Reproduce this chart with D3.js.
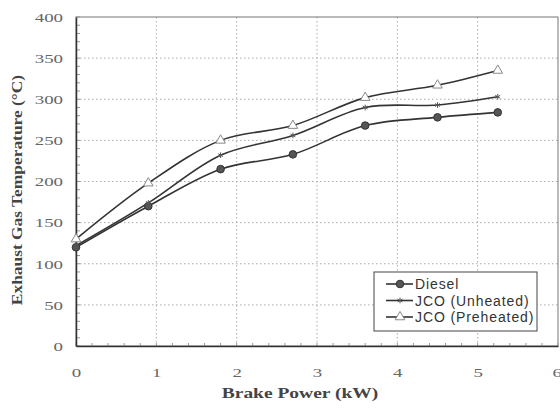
<!DOCTYPE html>
<html>
<head>
<meta charset="utf-8">
<script src="https://cdn.jsdelivr.net/npm/d3@7"></script>
<style>
  body { margin: 0; background: #fff; }
  svg { display: block; }
</style>
</head>
<body>
<script>
// data
const power = [0, 0.9, 1.8, 2.7, 3.6, 4.5, 5.25];
const diesel = [120, 170, 215, 233, 268, 278, 284];
const jcoUnheated = [122, 174, 232, 256, 290, 293, 303];
const jcoPreheated = [130, 198, 250, 268, 302, 317, 335];
const seriesNames = ["Diesel", "JCO (Unheated)", "JCO (Preheated)"];
const xTicks = [0, 1, 2, 3, 4, 5, 6];
const yTicks = [0, 50, 100, 150, 200, 250, 300, 350, 400];

const W = 560, H = 408;
const margin = {top: 17, right: 2, bottom: 62, left: 76};
const width = W - margin.left - margin.right,
      height = H - margin.top - margin.bottom;
const serif = "'Liberation Serif', 'Times New Roman', serif";
const stretch = 1.4; // scanned original is a bit wide

const svg = d3.select("body").append("svg")
    .attr("width", W)
    .attr("height", H);
const g = svg.append("g")
    .attr("transform", "translate(" + margin.left + "," + margin.top + ")");

const x = d3.scaleLinear().domain([0, 6]).range([0, width]);
const y = d3.scaleLinear().domain([0, 400]).range([height, 0]);

// dotted grid
g.append("g").selectAll("line").data(xTicks.slice(1, -1)).join("line")
    .attr("x1", d => x(d)).attr("x2", d => x(d))
    .attr("y1", 0).attr("y2", height)
    .attr("stroke", "#aaa").attr("stroke-dasharray", "1.5,2.5");
g.append("g").selectAll("line").data(yTicks.slice(1, -1)).join("line")
    .attr("x1", 0).attr("x2", width)
    .attr("y1", d => y(d)).attr("y2", d => y(d))
    .attr("stroke", "#aaa").attr("stroke-dasharray", "1.5,2.5");

// frame
g.append("rect")
    .attr("width", width).attr("height", height)
    .attr("fill", "none").attr("stroke", "#777").attr("stroke-width", 1);

// minor ticks inside
g.append("g").selectAll("line").data(d3.range(0, 401, 10)).join("line")
    .attr("x1", 0).attr("x2", 4)
    .attr("y1", d => y(d)).attr("y2", d => y(d))
    .attr("stroke", "#999");
g.append("g").selectAll("line").data(d3.range(0, 6.01, 0.2)).join("line")
    .attr("x1", d => x(d)).attr("x2", d => x(d))
    .attr("y1", height).attr("y2", height - 3)
    .attr("stroke", "#999");

// axes
const xAxis = g.append("g")
    .attr("transform", "translate(0," + height + ")")
    .call(d3.axisBottom(x).tickValues(xTicks).tickSize(0).tickPadding(21).tickFormat(d3.format("d")));
const yAxis = g.append("g")
    .call(d3.axisLeft(y).tickValues(yTicks).tickSize(0).tickPadding(13));
[xAxis, yAxis].forEach(a => {
  a.select(".domain").attr("stroke", "#333").attr("stroke-width", 1.5);
  a.selectAll("text")
    .attr("font-family", serif)
    .attr("font-size", 13.5)
    .attr("fill", "#666")
    .attr("transform", "scale(" + stretch + ",1)");
});
yAxis.selectAll("text").attr("x", -13 / stretch);
xAxis.selectAll("text").attr("x", d => x(d) === width ? -1 : 0);

// axis titles
svg.append("text")
    .attr("transform", "translate(300,398) scale(1.3,1)")
    .attr("text-anchor", "middle")
    .attr("font-family", serif)
    .attr("font-weight", "bold").attr("font-size", 15).attr("fill", "#444")
    .text("Brake Power (kW)");
svg.append("text")
    .attr("transform", "translate(22,190) rotate(-90) scale(1.16,1)")
    .attr("text-anchor", "middle")
    .attr("font-family", serif)
    .attr("font-weight", "bold").attr("font-size", 15).attr("fill", "#444")
    .text("Exhaust Gas Temperature (°C)");

// series
const series = [diesel, jcoUnheated, jcoPreheated].map((vals, i) => ({
  name: seriesNames[i],
  pts: power.map((p, j) => [p, vals[j]])
}));

const line = d3.line()
    .x(d => x(d[0])).y(d => y(d[1]))
    .curve(d3.curveCatmullRom.alpha(0.5));

g.append("g").selectAll("path").data(series).join("path")
    .attr("d", d => line(d.pts))
    .attr("fill", "none").attr("stroke", "#333").attr("stroke-width", 1.6);

const star = d3.symbol().type(d3.symbolAsterisk || d3.symbolCross).size(22);
const tri = d3.symbol().type(d3.symbolTriangle).size(40);

function drawMarker(sel, i) {
  if (i === 0) {
    sel.append("circle").attr("r", 3.8).attr("fill", "#555").attr("stroke", "#333");
  } else if (i === 1) {
    sel.append("path").attr("d", star()).attr("fill", "none").attr("stroke", "#555").attr("stroke-width", 1);
  } else {
    sel.append("path").attr("d", tri()).attr("fill", "#fff").attr("stroke", "#888").attr("stroke-width", 1);
  }
}

series.forEach((s, i) => {
  g.append("g").selectAll("g").data(s.pts).join("g")
    .attr("transform", d => "translate(" + x(d[0]) + "," + y(d[1]) + ")")
    .each(function() { drawMarker(d3.select(this), i); });
});

// legend
const leg = svg.append("g").attr("transform", "translate(374,272)");
leg.append("rect")
    .attr("width", 163).attr("height", 59)
    .attr("fill", "#fff").attr("stroke", "#444").attr("stroke-width", 1);
seriesNames.forEach((n, i) => {
  const row = leg.append("g").attr("transform", "translate(0," + (12 + i * 16.5) + ")");
  row.append("line").attr("x1", 12).attr("x2", 39).attr("stroke", "#333").attr("stroke-width", 1.6);
  const m = row.append("g").attr("transform", "translate(26,0)");
  drawMarker(m, i);
  row.append("text")
    .attr("x", 41).attr("y", 5)
    .attr("font-family", "'Liberation Sans', Arial, sans-serif")
    .attr("font-size", 14).attr("letter-spacing", 0.9).attr("fill", "#333")
    .text(n);
});
</script>
</body>
</html>
